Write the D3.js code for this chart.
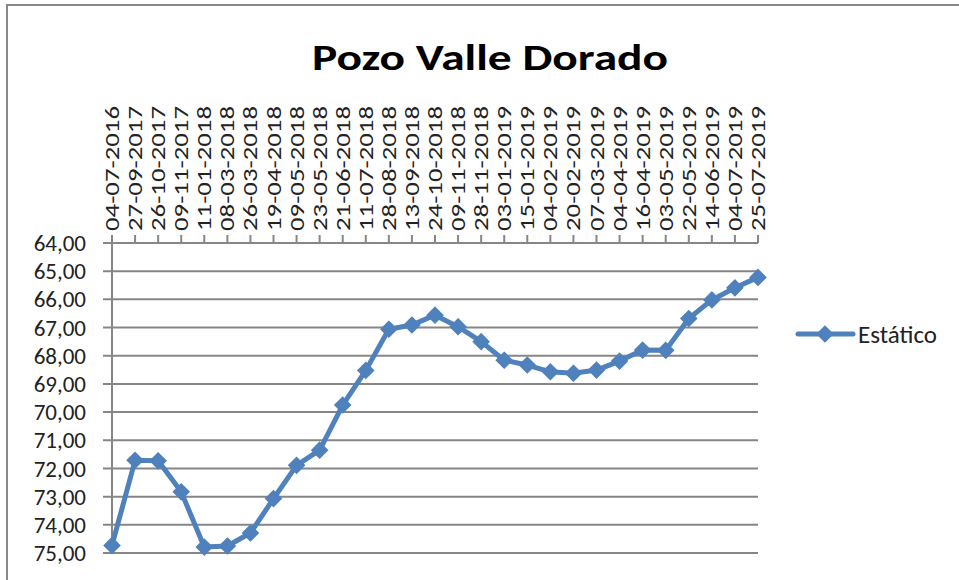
<!DOCTYPE html>
<html>
<head>
<meta charset="utf-8">
<script src="https://cdn.jsdelivr.net/npm/d3@7"></script>
<style>
  body { margin: 0; background: #fff; }
  text { font-family: Calibri, Carlito, "Liberation Sans", Arial, sans-serif; fill: #222; }
</style>
</head>
<body>
<div id="chart"></div>
<script>
const dates = ['04-07-2016', '27-09-2017', '26-10-2017', '09-11-2017', '11-01-2018', '08-03-2018',
    '26-03-2018', '19-04-2018', '09-05-2018', '23-05-2018', '21-06-2018', '11-07-2018', '28-08-2018',
    '13-09-2018', '24-10-2018', '09-11-2018', '28-11-2018', '03-01-2019', '15-01-2019', '04-02-2019',
    '20-02-2019', '07-03-2019', '04-04-2019', '16-04-2019', '03-05-2019', '22-05-2019', '14-06-2019',
    '04-07-2019', '25-07-2019'];

const estatico = [74.73, 71.71, 71.73, 72.83, 74.79, 74.75, 74.29, 73.07, 71.89, 71.35, 69.75, 68.52,
    67.06, 66.91, 66.56, 66.97, 67.5, 68.16, 68.33, 68.57, 68.62, 68.51, 68.19, 67.8, 67.81, 66.68,
    66.02, 65.59, 65.22];

const yTicks = [64, 65, 66, 67, 68, 69, 70, 71, 72, 73, 74, 75];

const seriesName = 'Estático';
const title = 'Pozo Valle Dorado';

const width = 959, height = 580;
const plotLeft = 112, plotRight = 758, plotTop = 243, plotBottom = 553;
const blue = '#4F81BD', grid = '#868686';

const svg = d3.select('#chart').append('svg')
    .attr('width', width)
    .attr('height', height);

// outer frame (only top and left visible)
svg.append('path')
    .attr('d', `M7,${height} V5 H${width}`)
    .attr('fill', 'none')
    .attr('stroke', '#888')
    .attr('stroke-width', 2);

svg.append('text')
    .attr('x', 490)
    .attr('y', 70)
    .attr('text-anchor', 'middle')
    .attr('font-size', 37)
    .attr('font-weight', 'bold')
    .attr('textLength', 356)
    .attr('lengthAdjust', 'spacingAndGlyphs')
    .style('fill', '#000')
    .text(title);

const x = d3.scalePoint()
    .domain(dates)
    .range([plotLeft, plotRight]);

// reversed value axis: 64 on top
const y = d3.scaleLinear()
    .domain([64, 75])
    .range([plotTop, plotBottom]);

// horizontal gridlines (extend left as tick marks)
svg.append('g')
    .selectAll('line')
    .data(yTicks)
    .join('line')
    .attr('x1', plotLeft - 9)
    .attr('x2', plotRight)
    .attr('y1', d => y(d))
    .attr('y2', d => y(d))
    .attr('stroke', grid)
    .attr('stroke-width', 2);

// y axis line
svg.append('line')
    .attr('x1', plotLeft).attr('x2', plotLeft)
    .attr('y1', plotTop).attr('y2', plotBottom)
    .attr('stroke', grid)
    .attr('stroke-width', 2);

svg.append('g')
    .selectAll('text')
    .data(yTicks)
    .join('text')
    .attr('x', 86)
    .attr('y', d => y(d))
    .attr('dy', '0.35em')
    .attr('text-anchor', 'end')
    .attr('font-size', 23)
    .text(d => d.toFixed(2).replace('.', ','));

// category axis on top
const xAxis = svg.append('g');
xAxis.selectAll('line')
    .data(dates)
    .join('line')
    .attr('x1', d => x(d))
    .attr('x2', d => x(d))
    .attr('y1', plotTop)
    .attr('y2', plotTop - 8)
    .attr('stroke', grid)
    .attr('stroke-width', 2);

xAxis.selectAll('text')
    .data(dates)
    .join('text')
    .attr('transform', d => `translate(${x(d) + 7},${plotTop - 12}) rotate(-90)`)
    .attr('font-size', 21)
    .attr('textLength', 125)
    .attr('lengthAdjust', 'spacingAndGlyphs')
    .text(d => d);

const line = d3.line()
    .x((d, i) => x(dates[i]))
    .y(d => y(d));

svg.append('path')
    .datum(estatico)
    .attr('d', line)
    .attr('fill', 'none')
    .attr('stroke', blue)
    .attr('stroke-width', 5)
    .attr('stroke-linejoin', 'round');

const diamond = d3.symbol().type(d3.symbolDiamond2).size(140);

svg.append('g')
    .selectAll('path')
    .data(estatico)
    .join('path')
    .attr('transform', (d, i) => `translate(${x(dates[i])},${y(d)})`)
    .attr('d', diamond)
    .attr('fill', blue)
    .attr('stroke', blue)
    .attr('stroke-width', 2);

// legend
const legend = svg.append('g').attr('transform', 'translate(798,334)');
legend.append('line')
    .attr('x1', 0).attr('x2', 55)
    .attr('stroke', blue)
    .attr('stroke-width', 5)
    .attr('stroke-linecap', 'round');
legend.append('path')
    .attr('transform', 'translate(27,0)')
    .attr('d', diamond)
    .attr('fill', blue)
    .attr('stroke', blue)
    .attr('stroke-width', 2);
legend.append('text')
    .attr('x', 60)
    .attr('y', 9)
    .attr('font-size', 24)
    .attr('textLength', 79)
    .attr('lengthAdjust', 'spacingAndGlyphs')
    .text(seriesName);
</script>
</body>
</html>
